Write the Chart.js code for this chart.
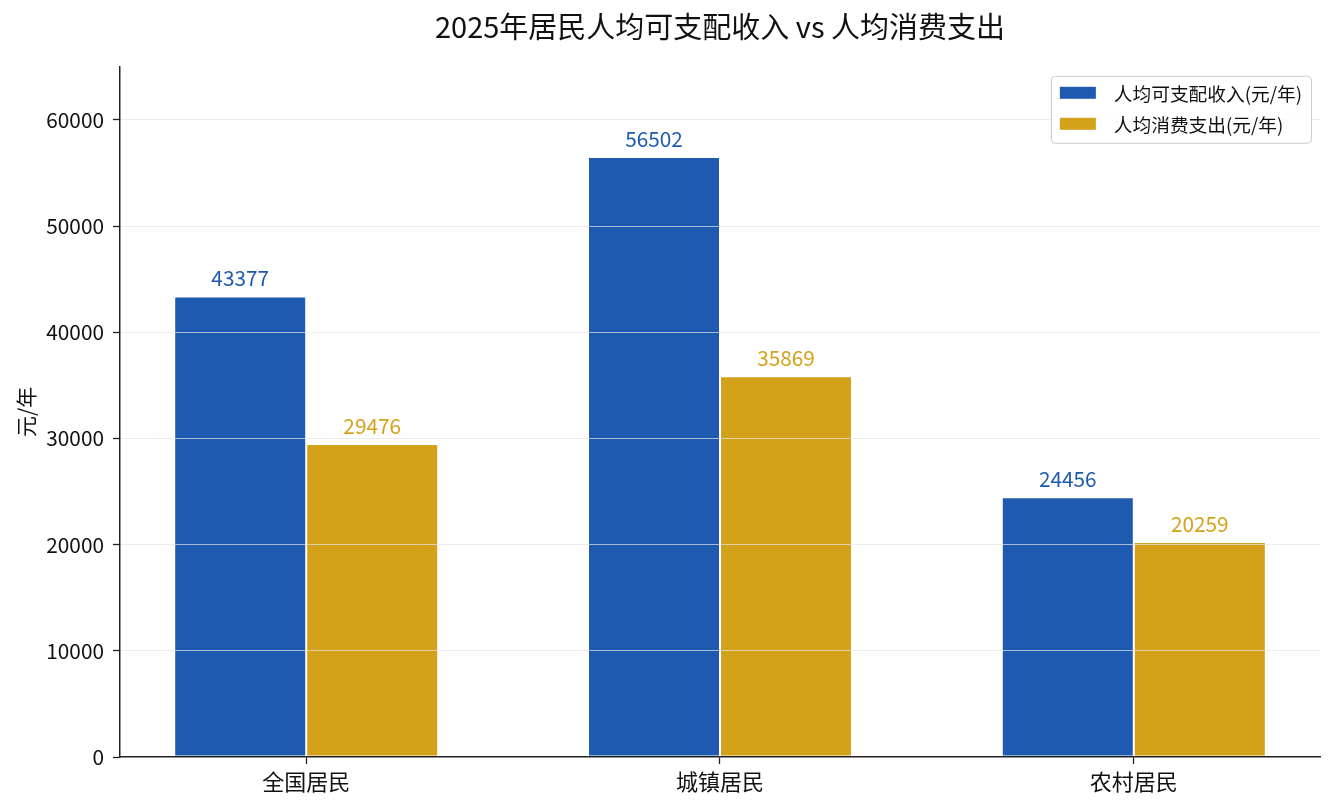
<!DOCTYPE html>
<html>
<head>
<meta charset="utf-8">
<script src="https://cdn.jsdelivr.net/npm/chart.js@4/dist/chart.umd.min.js"></script>
<style>
html,body{margin:0;padding:0;background:#fff;}
#wrap{width:1335px;height:810px;position:relative;}
</style>
</head>
<body>
<div id="wrap"><canvas id="c" width="1335" height="810"></canvas></div>
<script>
const categories = ['全国居民', '城镇居民', '农村居民'];
const incomeLabel = '人均可支配收入(元/年)';
const spendLabel = '人均消费支出(元/年)';
const income = [43377, 56502, 24456];
const spending = [29476, 35869, 20259];
const yTicks = [0, 10000, 20000, 30000, 40000, 50000, 60000];
const titleText = '2025年居民人均可支配收入 vs 人均消费支出';
const yTitle = '元/年';

const BLUE = '#1e5bb0';
const GOLD = '#d4a11a';
const FONT = "'Noto Sans CJK SC', 'Noto Sans', sans-serif";
Chart.defaults.font.family = FONT;
Chart.defaults.color = '#111';

const labelPlugin = {
  id: 'valueLabels',
  afterDraw(chart) {
    const ctx = chart.ctx;
    ctx.save();
    ctx.font = '20.8px ' + FONT;
    ctx.textAlign = 'center';
    ctx.textBaseline = 'alphabetic';
    chart.data.datasets.forEach((ds, di) => {
      const meta = chart.getDatasetMeta(di);
      ctx.fillStyle = ds.backgroundColor;
      meta.data.forEach((bar, i) => {
        ctx.fillText(String(ds.data[i].y), bar.x, bar.y - 10);
      });
    });
    ctx.restore();
  }
};

const legendPlugin = {
  id: 'boxLegend',
  afterDraw(chart) {
    const ctx = chart.ctx;
    const a = chart.chartArea;
    ctx.save();
    ctx.font = '18.7px ' + FONT;
    const dsets = chart.data.datasets;
    let tw = 0;
    dsets.forEach(d => { tw = Math.max(tw, ctx.measureText(d.label).width); });
    const padL = 9, patch = 36, gap = 18, padR = 9;
    const w = padL + patch + gap + tw + padR;
    const h = 67;
    const x0 = a.right - 9 - w;
    const y0 = a.top + 9;
    ctx.beginPath();
    if (ctx.roundRect) ctx.roundRect(x0 + 0.5, y0 + 0.5, w, h, 4); else ctx.rect(x0 + 0.5, y0 + 0.5, w, h);
    ctx.fillStyle = 'rgba(255,255,255,0.85)';
    ctx.fill();
    ctx.strokeStyle = '#cccccc';
    ctx.lineWidth = 1;
    ctx.stroke();
    ctx.textBaseline = 'middle';
    ctx.textAlign = 'left';
    dsets.forEach((d, i) => {
      const cy = y0 + 17 + i * 31;
      ctx.fillStyle = d.backgroundColor;
      ctx.fillRect(x0 + padL, cy - 6, patch, 12);
      ctx.fillStyle = '#111';
      ctx.fillText(d.label, x0 + padL + patch + gap, cy + 1);
    });
    ctx.restore();
  }
};

new Chart(document.getElementById('c'), {
  type: 'bar',
  data: {
    datasets: [
      {
        label: incomeLabel,
        data: categories.map((c, i) => ({ x: i, y: income[i] })),
        backgroundColor: BLUE,
        borderColor: '#ffffff',
        borderWidth: 1,
        borderSkipped: false,
        categoryPercentage: 0.638,
        barPercentage: 1.0
      },
      {
        label: spendLabel,
        data: categories.map((c, i) => ({ x: i, y: spending[i] })),
        backgroundColor: GOLD,
        borderColor: '#ffffff',
        borderWidth: 1,
        borderSkipped: false,
        categoryPercentage: 0.638,
        barPercentage: 1.0
      }
    ]
  },
  options: {
    responsive: false,
    animation: false,
    devicePixelRatio: 1,
    layout: { padding: { left: 0, right: 15, top: 0, bottom: 0 } },
    plugins: {
      legend: { display: false },
      tooltip: { enabled: false },
      title: {
        display: true,
        text: titleText,
        fullSize: false,
        color: '#111',
        font: { size: 29, weight: 'normal', family: FONT },
        padding: { top: 10, bottom: 22 }
      }
    },
    scales: {
      x: {
        type: 'linear',
        min: -0.45,
        max: 2.45,
        offset: false,
        z: 2,
        afterBuildTicks(scale) { scale.ticks = categories.map((c, i) => ({ value: i })); },
        afterFit(scale) { scale.height = 53; },
        ticks: {
          callback: (v) => categories[v] !== undefined ? categories[v] : '',
          color: '#111',
          font: { size: 22, family: FONT },
          padding: 4,
          maxRotation: 0,
          autoSkip: false
        },
        grid: {
          display: true,
          offset: false,
          drawOnChartArea: false,
          drawTicks: true,
          tickLength: 7,
          tickColor: '#222',
          tickWidth: 1.3,
          z: 2
        },
        border: { display: true, color: '#222', width: 1.5, z: 2 }
      },
      y: {
        min: 0,
        max: 65000,
        z: 1,
        afterBuildTicks(scale) { scale.ticks = yTicks.map(v => ({ value: v })); },
        afterFit(scale) { scale.width = 120; },
        ticks: {
          color: '#111',
          font: { size: 20.8, family: FONT },
          padding: 9,
          callback: (v) => String(v)
        },
        grid: {
          color: (c) => (c.tick && c.tick.value === 0) ? 'rgba(0,0,0,0)' : 'rgba(228,228,228,0.7)',
          lineWidth: 1,
          drawTicks: true,
          tickLength: 7,
          tickColor: '#222',
          tickWidth: 1.3,
          z: 1
        },
        border: { display: true, color: '#222', width: 1.5, z: 1 },
        title: {
          display: true,
          text: yTitle,
          color: '#111',
          font: { size: 21, family: FONT },
          padding: { top: 13, bottom: 0 }
        }
      }
    }
  },
  plugins: [labelPlugin, legendPlugin]
});
</script>
</body>
</html>
